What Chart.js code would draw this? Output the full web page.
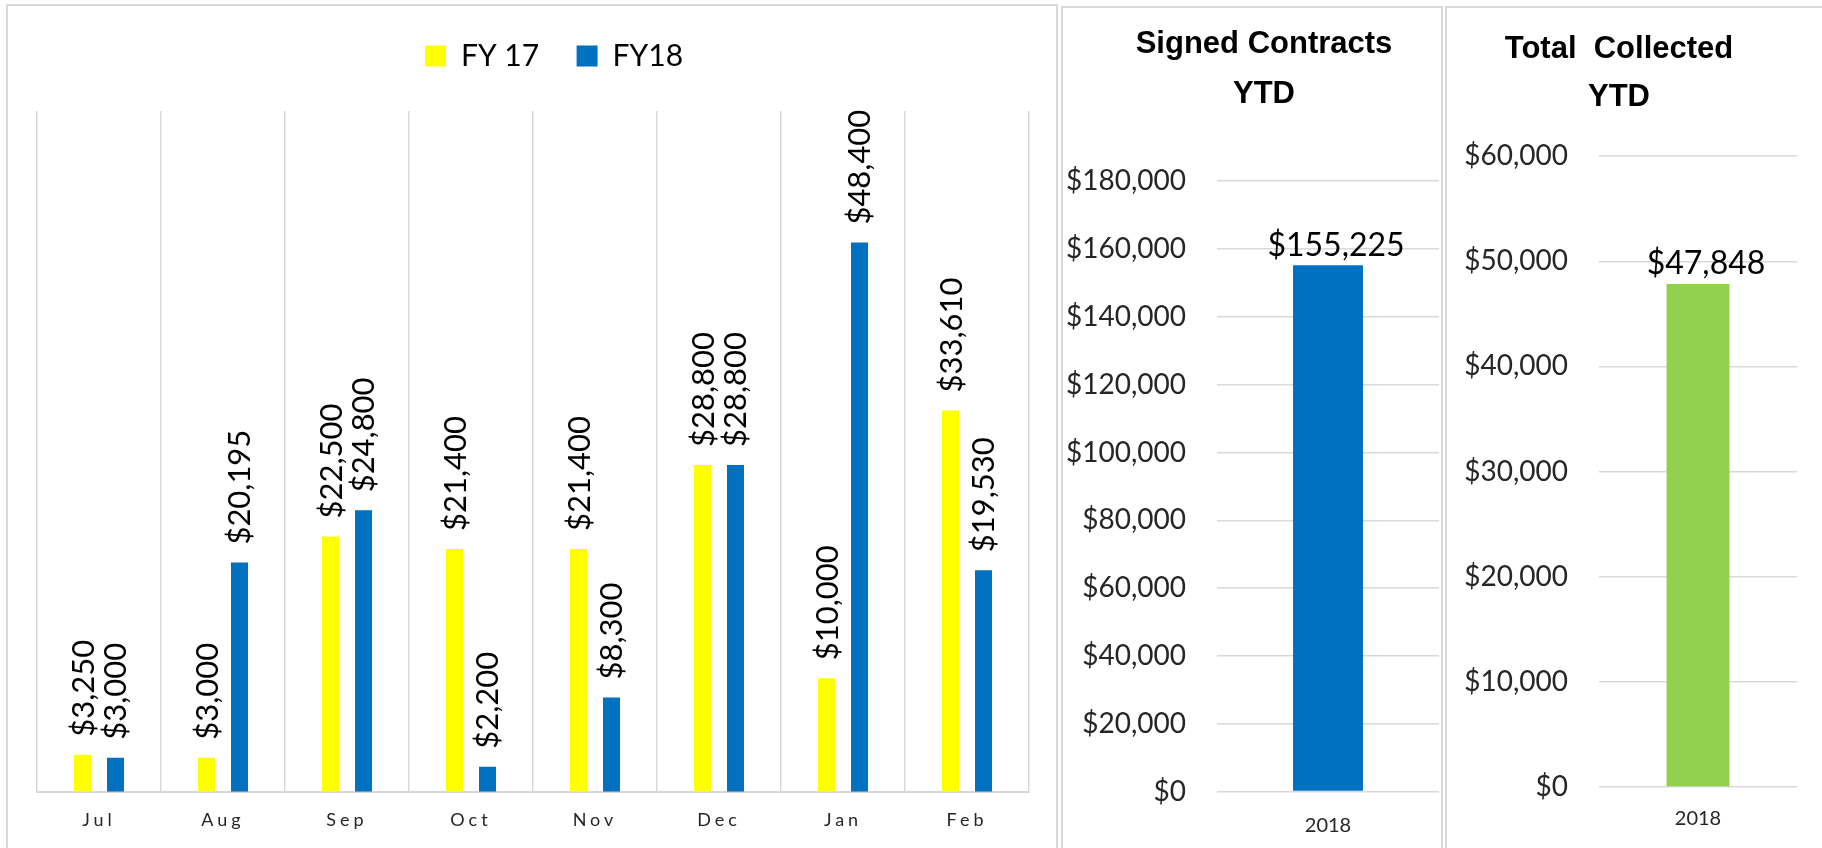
<!DOCTYPE html>
<html>
<head>
<meta charset="utf-8">
<script src="https://cdn.jsdelivr.net/npm/chart.js@4.4.1/dist/chart.umd.min.js"></script>
<style>
  html, body { margin: 0; padding: 0; background: #ffffff; width: 1822px; height: 848px; overflow: hidden; position: relative; }
  .panel { position: absolute; box-sizing: border-box; border: 2px solid #d9d9d9; }
  canvas { position: absolute; }
</style>
</head>
<body>
<div class="panel" style="left:6px;top:4px;width:1052px;height:846px;"></div>
<div class="panel" style="left:1061px;top:6px;width:382px;height:844px;"></div>
<div class="panel" style="left:1445px;top:6px;width:382px;height:844px;"></div>
<canvas id="c1" width="1048" height="842" style="left:8px;top:6px;"></canvas>
<canvas id="c2" width="378" height="840" style="left:1063px;top:8px;"></canvas>
<canvas id="c3" width="375" height="840" style="left:1447px;top:8px;"></canvas>
<script>
// ---- data ----
const months = ['Jul', 'Aug', 'Sep', 'Oct', 'Nov', 'Dec', 'Jan', 'Feb'];
const seriesNames = ['FY 17', 'FY18'];
const fy17 = [3250, 3000, 22500, 21400, 21400, 28800, 10000, 33610];
const fy18 = [3000, 20195, 24800, 2200, 8300, 28800, 48400, 19530];
const ytdCategories = ['2018'];
const signedTitle = ['Signed Contracts', 'YTD'];
const signedYTD = [155225];
const collectedTitle = ['Total  Collected', 'YTD'];
const collectedYTD = [47848];

const money = v => '$' + Number(v).toLocaleString('en-US');

Chart.defaults.font.family = 'Lato';
Chart.defaults.animation = false;

// rotated value labels for main chart
const rotatedLabels = {
  id: 'rotatedLabels',
  afterDatasetsDraw(chart) {
    const ctx = chart.ctx;
    chart.data.datasets.forEach((ds, di) => {
      const meta = chart.getDatasetMeta(di);
      meta.data.forEach((el, i) => {
        ctx.save();
        ctx.translate(el.x + 1, el.y - 18);
        ctx.rotate(-Math.PI / 2);
        ctx.font = '31px Lato';
        ctx.fillStyle = '#000000';
        ctx.textAlign = 'left';
        ctx.textBaseline = 'middle';
        ctx.fillText(money(ds.data[i]), 0, 0);
        ctx.restore();
      });
    });
  }
};

// horizontal value labels for the YTD charts
const topLabels = {
  id: 'topLabels',
  afterDatasetsDraw(chart) {
    const ctx = chart.ctx;
    chart.data.datasets.forEach((ds, di) => {
      const meta = chart.getDatasetMeta(di);
      meta.data.forEach((el, i) => {
        ctx.save();
        ctx.font = '32px Lato';
        ctx.fillStyle = '#000000';
        ctx.textAlign = 'center';
        ctx.textBaseline = 'middle';
        ctx.fillText(money(ds.data[i]), el.x + 8, el.y - 20);
        ctx.restore();
      });
    });
  }
};

// shifts legend / title blocks and adds letter spacing to x ticks
const tweaks = {
  id: 'tweaks',
  afterLayout(chart, args, opts) {
    if (chart.legend && (opts.legendShiftX || opts.legendShiftY)) {
      chart.legend.left += opts.legendShiftX || 0;
      chart.legend.right += opts.legendShiftX || 0;
      chart.legend.top += opts.legendShiftY || 0;
      chart.legend.bottom += opts.legendShiftY || 0;
    }
    if (opts.titleShift && chart.titleBlock) {
      chart.titleBlock.left += opts.titleShift;
      chart.titleBlock.right += opts.titleShift;
    }
    if (opts.letterSpacing) {
      const sc = chart.scales.x;
      if (!sc._lsPatched) {
        const orig = sc.drawLabels;
        sc.drawLabels = function (area) {
          const c = this.ctx;
          c.save();
          c.letterSpacing = opts.letterSpacing;
          orig.call(this, area);
          c.restore();
        };
        sc._lsPatched = true;
      }
    }
  }
};

// ---- main chart ----
new Chart(document.getElementById('c1'), {
  type: 'bar',
  data: {
    labels: months,
    datasets: [
      { label: seriesNames[0], data: fy17, backgroundColor: '#FFFF00', borderWidth: 0,
        categoryPercentage: 0.532, barPercentage: 0.515 },
      { label: seriesNames[1], data: fy18, backgroundColor: '#0070C0', borderWidth: 0,
        categoryPercentage: 0.532, barPercentage: 0.515 }
    ]
  },
  options: {
    responsive: false,
    devicePixelRatio: 1,
    layout: { padding: { left: 29, right: 27, top: 27.5, bottom: 0 } },
    plugins: {
      legend: {
        display: true,
        position: 'top',
        labels: {
          boxWidth: 21, boxHeight: 21, padding: 37.5,
          color: '#000000',
          font: { size: 30, family: 'Lato' }
        }
      },
      tooltip: { enabled: false },
      tweaks: { legendShiftX: 21, legendShiftY: -30, letterSpacing: '4px' }
    },
    scales: {
      x: {
        afterFit: s => { s.height = 56.3; },
        grid: { display: true, offset: true, color: '#d9d9d9', lineWidth: 1.5, drawTicks: false },
        border: { display: true, color: '#d9d9d9', width: 2 },
        ticks: { color: '#262626', font: { size: 18 }, padding: 17.5 }
      },
      y: {
        display: false,
        min: 0, max: 60000
      }
    }
  },
  plugins: [rotatedLabels, tweaks]
});

function ytdChart(id, titleLines, cats, values, color, maxV, step, opt) {
  return new Chart(document.getElementById(id), {
    type: 'bar',
    data: {
      labels: cats,
      datasets: [{ label: titleLines.join(' '), data: values, backgroundColor: color, borderWidth: 0,
        categoryPercentage: 1, barPercentage: opt.barPct }]
    },
    options: {
      responsive: false,
      devicePixelRatio: 1,
      layout: { padding: { left: 0, right: opt.rightPad, top: 0, bottom: 0 } },
      plugins: {
        legend: { display: false },
        tooltip: { enabled: false },
        title: {
          display: true,
          text: titleLines,
          color: '#000000',
          font: { family: 'Liberation Sans', weight: 'bold', size: 31, lineHeight: opt.titleLH },
          padding: { top: opt.titleTop, bottom: opt.titleBottom }
        },
        tweaks: { titleShift: opt.titleShift }
      },
      scales: {
        x: {
          afterFit: s => { s.height = opt.xH; },
          grid: { display: false, drawTicks: false },
          border: { display: false },
          ticks: { color: '#262626', font: { size: 20 }, padding: opt.xPad }
        },
        y: {
          min: 0, max: maxV,
          afterFit: s => { s.width = opt.axisW; },
          grid: { color: '#d9d9d9', lineWidth: 1.5, drawTicks: false },
          border: { display: false },
          ticks: {
            stepSize: step, autoSkip: false, padding: 31,
            color: '#262626', font: { size: 28 },
            callback: v => money(v)
          }
        }
      }
    },
    plugins: [topLabels, tweaks]
  });
}

ytdChart('c2', signedTitle, ytdCategories, signedYTD, '#0070C0', 180000, 20000,
  { barPct: 0.315, rightPad: 2, titleTop: 12, titleBottom: 62, titleLH: 1.6, titleShift: 13, xPad: 22.4, xH: 56.4, axisW: 154 });
ytdChart('c3', collectedTitle, ytdCategories, collectedYTD, '#92D050', 60000, 10000,
  { barPct: 0.318, rightPad: 25, titleTop: 17, titleBottom: 35, titleLH: 1.55, titleShift: -3, xPad: 20, xH: 61, axisW: 152 });
</script>
</body>
</html>
